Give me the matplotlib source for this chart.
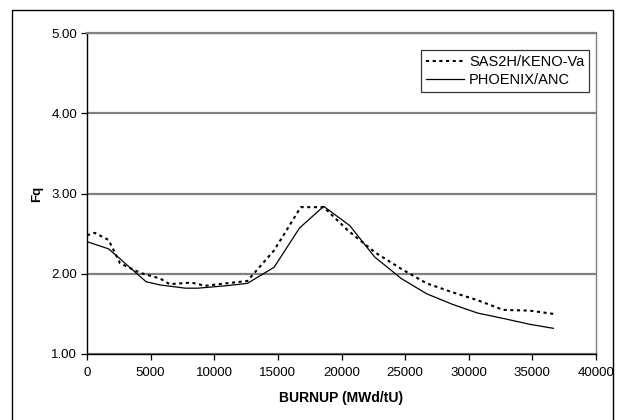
import matplotlib.pyplot as plt
from matplotlib.patches import Rectangle
from matplotlib.ticker import FormatStrFormatter

plt.rcParams['font.family'] = ['Liberation Sans', 'DejaVu Sans']

# Burnup steps (MWd/tU) and peaking factor Fq for each code
burnup_sas = [0, 600, 1700, 2600, 4200, 5750, 6500, 8200, 9300, 10900, 12600,
              14700, 16800, 18600, 20500, 22600, 24700, 26700, 28700, 30700,
              32700, 34800, 36650]
fq_sas = [2.48, 2.51, 2.42, 2.13, 2.01, 1.94, 1.87, 1.89, 1.85, 1.88, 1.91,
          2.29, 2.83, 2.83, 2.54, 2.27, 2.06, 1.88, 1.77, 1.67,
          1.55, 1.54, 1.50]

burnup_phx = [0, 1700, 4650, 5750, 7750, 8700, 10900, 12600, 14700, 16700,
              18600, 20650, 22600, 24700, 26700, 28700, 30700, 32800, 34800,
              36650]
fq_phx = [2.40, 2.31, 1.90, 1.86, 1.82, 1.82, 1.85, 1.88, 2.08, 2.57,
          2.84, 2.60, 2.21, 1.94, 1.75, 1.62, 1.51, 1.44, 1.37,
          1.32]

W, H = 619, 420
fig = plt.figure(figsize=(W / 100, H / 100), dpi=100)
ax = fig.add_axes([87 / W, 1 - 354 / H, (596 - 87) / W, (354 - 33) / H])

# outer chart frame
fig.patches.append(Rectangle((11.5 / W, -0.05), (613 - 11.5) / W, 1.05 - 10 / H,
                             transform=fig.transFigure, fill=False,
                             edgecolor='black', linewidth=1.0))

ax.plot(burnup_sas, fq_sas, color='black', linewidth=1.5,
        linestyle=(0, (1.5, 1.7)), label='SAS2H/KENO-Va')
ax.plot(burnup_phx, fq_phx, color='black', linewidth=0.9,
        label='PHOENIX/ANC')

ax.set_xlim(0, 40000)
ax.set_ylim(1, 5)
ax.set_xticks(range(0, 40001, 5000))
ax.set_yticks([1, 2, 3, 4, 5])
ax.yaxis.set_major_formatter(FormatStrFormatter('%.2f'))

ax.yaxis.grid(True, color='#808080', linewidth=1.6)
ax.set_axisbelow(True)
for s in ['top', 'right']:
    ax.spines[s].set_color('#808080')
ax.spines['top'].set_linewidth(1.6)
ax.spines['right'].set_linewidth(1.0)
ax.spines['left'].set_linewidth(1.0)
ax.spines['bottom'].set_linewidth(1.0)

ax.tick_params(axis='both', direction='out', length=4, width=0.9,
               labelsize=9.5, colors='black')
ax.tick_params(axis='x', pad=5)
ax.tick_params(axis='y', pad=3)

ax.set_xlabel('BURNUP (MWd/tU)', fontsize=10, fontweight='bold', labelpad=9)
ax.set_ylabel('Fq', fontsize=9.5, fontweight='bold', labelpad=6)

leg = ax.legend(loc='upper right', bbox_to_anchor=(589 / W, 1 - 50 / H),
                bbox_transform=fig.transFigure, fontsize=10.5, frameon=True,
                fancybox=False, handlelength=2.6, handletextpad=0.35,
                borderpad=0.32, labelspacing=0.32, borderaxespad=0)
leg.get_frame().set_edgecolor('black')
leg.get_frame().set_linewidth(0.9)

fig.savefig('out.png', dpi=100)
